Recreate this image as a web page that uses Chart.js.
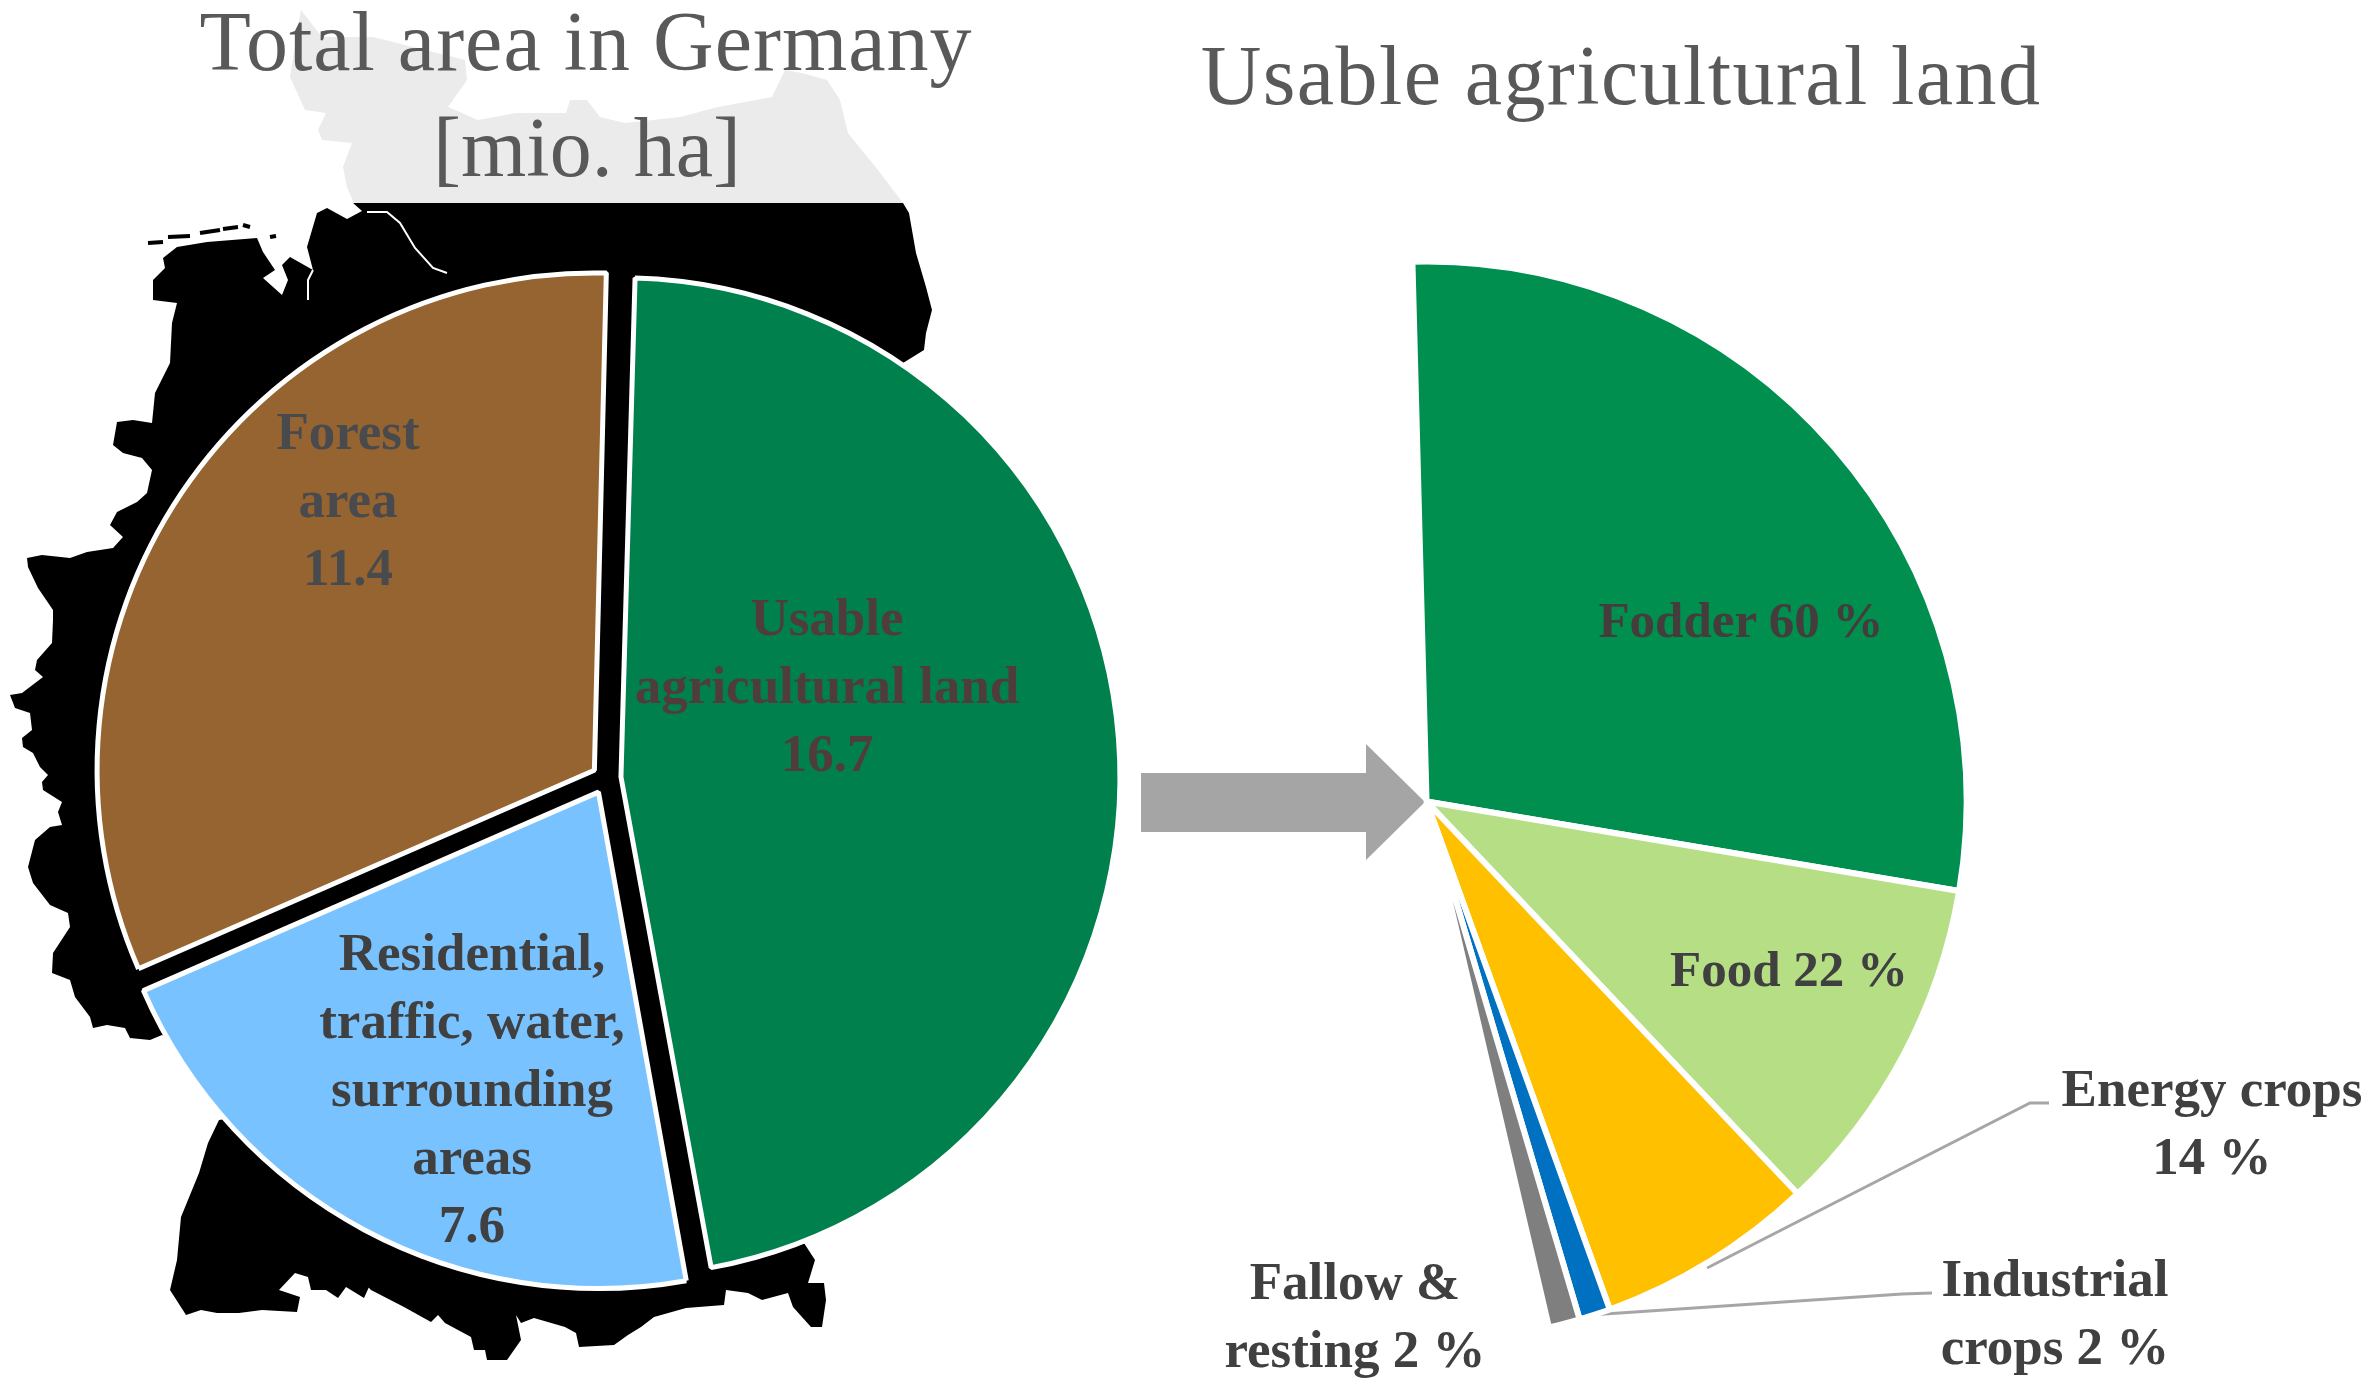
<!DOCTYPE html>
<html>
<head>
<meta charset="utf-8">
<title>Total area in Germany</title>
<script src="https://cdn.jsdelivr.net/npm/chart.js@4"></script>
<style>
  html, body { margin: 0; padding: 0; background: #fff; }
  #page { position: relative; width: 2369px; height: 1391px; overflow: hidden; }
  canvas { position: absolute; left: 0; top: 0; }
  .title, .lbl { position: absolute; transform: translate(-50%, -50%); text-align: center; white-space: nowrap; font-family: "Liberation Serif", serif; }
  .title { color: #595959; font-size: 84px; line-height: 106px; letter-spacing: 1px; }
  .lbl { color: #404040; font-size: 53px; font-weight: bold; line-height: 68px; }
  .pct { font-size: 51px; }
</style>
</head>
<body>
<div id="page">
  <canvas id="areaChart" width="2369" height="1391"></canvas>
  <canvas id="landChart" width="2369" height="1391"></canvas>

  <div class="title" style="left:586px;top:42px">Total area in Germany</div>
  <div class="title" style="left:587px;top:148px;letter-spacing:0">[mio. ha]</div>
  <div class="title" style="left:1621px;top:76px;letter-spacing:1.4px">Usable agricultural land</div>

  <div class="lbl" style="left:348px;top:499px;color:#484a4d">Forest<br>area<br>11.4</div>
  <div class="lbl" style="left:827px;top:685px;color:#503c3c">Usable<br>agricultural land<br>16.7</div>
  <div class="lbl" style="left:472px;top:1088px">Residential,<br>traffic, water,<br>surrounding<br>areas<br>7.6</div>
  <div class="lbl pct" style="left:1741px;top:620px;color:#453c3c">Fodder 60 %</div>
  <div class="lbl pct" style="left:1789px;top:969px">Food 22 %</div>
  <div class="lbl" style="left:2212px;top:1122px">Energy crops<br>14 %</div>
  <div class="lbl" style="left:2055px;top:1312px">Industrial<br>crops 2 %</div>
  <div class="lbl" style="left:1355px;top:1315px">Fallow &amp;<br>resting 2 %</div>
</div>

<script>
// total area, mio. ha
const areaLabels = ['Usable agricultural land', 'Residential, traffic, water, surrounding areas', 'Forest area'];
const areaValues = [16.7, 7.6, 11.4];
const areaColors = ['#00804c', '#78c2ff', '#966431'];

// usable agricultural land, %
const landLabels = ['Fodder', 'Food', 'Energy crops', 'Industrial crops', 'Fallow & resting'];
const landValues = [60, 22, 14, 2, 2];
const landColors = ['#008f4f', '#b5de85', '#ffc000', '#0070c0', '#7f7f7f'];

// outline of the country behind the left pie, page pixels
const mapOutline = [
  [353,203],[903,203],[909,213],[916,253],[926,287],[932,310],[926,333],[924,350],[903,363],
  [800,800],[804,1243],[815,1260],[808,1283],[824,1283],[826,1300],[822,1327],[811,1327],[793,1307],
  [788,1293],[762,1300],[748,1293],[726,1290],[724,1305],[686,1308],[654,1317],[641,1327],[628,1335],
  [614,1345],[579,1347],[576,1333],[565,1327],[534,1318],[521,1323],[516,1315],[521,1340],[507,1360],
  [487,1360],[485,1350],[474,1350],[471,1337],[445,1323],[438,1315],[431,1322],[404,1307],[371,1290],
  [355,1273],[369,1287],[364,1298],[346,1287],[338,1298],[326,1290],[311,1290],[308,1277],[295,1273],
  [279,1290],[300,1297],[297,1312],[262,1310],[239,1313],[217,1313],[201,1310],[186,1315],[170,1290],
  [177,1260],[181,1217],[199,1173],[208,1143],[219,1120],[350,1100],[162,1035],[150,1040],[130,1038],
  [125,1028],[107,1025],[93,1028],[90,1017],[75,997],[70,980],[52,973],[53,953],[70,927],[68,913],
  [50,905],[33,883],[28,867],[35,840],[50,827],[62,825],[58,812],[62,802],[43,790],[42,782],[48,775],
  [40,767],[33,753],[23,747],[22,738],[32,730],[30,713],[15,708],[10,695],[22,693],[43,677],[35,670],
  [37,660],[52,643],[53,620],[53,610],[38,588],[28,567],[27,558],[42,555],[70,558],[87,552],[113,548],
  [123,537],[110,525],[117,512],[137,502],[147,493],[152,470],[142,458],[123,453],[113,445],[117,422],
  [133,420],[152,423],[155,393],[170,363],[172,323],[177,303],[153,300],[153,280],[165,268],[163,258],
  [177,247],[207,242],[257,238],[263,252],[275,270],[263,278],[282,295],[288,280],[282,265],[290,257],
  [313,270],[307,247],[317,213],[327,208],[347,219],[362,211]
];
// pale part of the map under the titles
const mapNorth = [
  [354,203],[347,187],[343,167],[352,143],[322,140],[318,130],[326,113],[305,110],[290,77],[297,33],
  [301,10],[322,37],[373,37],[465,60],[467,80],[448,107],[478,120],[516,113],[566,113],[570,100],
  [587,100],[600,117],[625,123],[680,117],[718,107],[772,97],[785,70],[802,73],[827,80],[840,100],
  [848,133],[878,170],[903,203]
];
const mapIslands = [
  [[148,243],[163,242]], [[168,237],[190,236]], [[200,233],[220,230]],
  [[223,229],[238,227]], [[243,225],[250,227]], [[270,237],[276,236]]
];
const mapRivers = [
  [[367,212],[387,212],[400,223],[415,248],[433,268],[447,273]],
  [[313,270],[308,280],[308,300]]
];

function fillShape(ctx, pts, color) {
  ctx.fillStyle = color;
  ctx.beginPath();
  pts.forEach(function (p, i) {
    if (i == 0) ctx.moveTo(p[0], p[1]); else ctx.lineTo(p[0], p[1]);
  });
  ctx.closePath();
  ctx.fill();
}

function strokeLines(ctx, lines, color, width) {
  ctx.strokeStyle = color;
  ctx.lineWidth = width;
  ctx.beginPath();
  lines.forEach(function (line) {
    line.forEach(function (p, i) {
      if (i == 0) ctx.moveTo(p[0], p[1]); else ctx.lineTo(p[0], p[1]);
    });
  });
  ctx.stroke();
}

const mapPlugin = {
  id: 'mapBehind',
  afterDatasetsUpdate: function (chart) {
    // the slices of the left pie are not quite the same size in the picture
    const extra = [-3, 6, 6];
    chart.getDatasetMeta(0).data.forEach(function (arc, i) {
      arc.outerRadius += extra[i];
    });
  },
  beforeDatasetsDraw: function (chart) {
    const ctx = chart.ctx;
    ctx.save();
    fillShape(ctx, mapNorth, '#ebebeb');
    fillShape(ctx, mapOutline, '#000');
    strokeLines(ctx, mapIslands, '#000', 4);
    strokeLines(ctx, mapRivers, '#fff', 2);
    ctx.restore();
  }
};

const arrowPlugin = {
  id: 'arrowAndLeaders',
  beforeDatasetsDraw: function (chart) {
    const ctx = chart.ctx;
    ctx.save();
    fillShape(ctx, [[1141,773],[1366,773],[1366,744],[1425,802],[1366,860],[1366,832],[1141,832]], '#a5a5a5');
    strokeLines(ctx, [
      [[1707,1268],[2030,1103],[2049,1103]],
      [[1590,1315],[1902,1294],[1932,1293]]
    ], '#a6a6a6', 3);
    ctx.restore();
  }
};

new Chart(document.getElementById('areaChart'), {
  type: 'pie',
  data: {
    labels: areaLabels,
    datasets: [{
      data: areaValues,
      backgroundColor: areaColors,
      borderColor: '#fff',
      borderWidth: 5,
      offset: [60, 64, 56] // an arc moves by a quarter of this
    }]
  },
  options: {
    responsive: false,
    animation: false,
    rotation: 1.4,
    radius: 490,
    layout: { padding: { right: 1157, top: 165 } },
    plugins: { legend: { display: false }, tooltip: { enabled: false } }
  },
  plugins: [mapPlugin]
});

new Chart(document.getElementById('landChart'), {
  type: 'pie',
  data: {
    labels: landLabels,
    datasets: [{
      data: landValues,
      backgroundColor: landColors,
      borderColor: '#fff',
      borderWidth: 6
    }]
  },
  options: {
    responsive: false,
    animation: false,
    rotation: -1.5,
    circumference: 168.4,
    radius: 540,
    layout: { padding: { left: 1010, top: 198 } },
    plugins: { legend: { display: false }, tooltip: { enabled: false } }
  },
  plugins: [arrowPlugin]
});
</script>
</body>
</html>
